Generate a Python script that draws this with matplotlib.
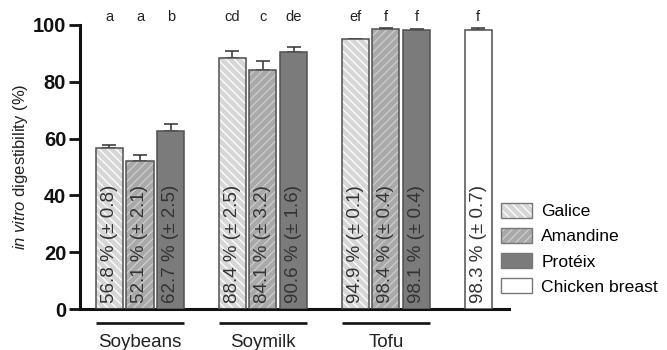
import matplotlib
matplotlib.use("Agg")
import matplotlib.pyplot as plt
from matplotlib.patches import Patch
from matplotlib.legend_handler import HandlerTuple

plt.rcParams["font.family"] = ["Liberation Sans", "DejaVu Sans"]
plt.rcParams["mathtext.fontset"] = "custom"
plt.rcParams["mathtext.it"] = "Liberation Sans:italic"
plt.rcParams["mathtext.rm"] = "Liberation Sans"
plt.rcParams["hatch.linewidth"] = 0.9

# 数据
groups = ["Soybeans", "Soymilk", "Tofu"]
varieties = ["Galice", "Amandine", "Protéix", "Chicken breast"]
means = [56.8, 52.1, 62.7, 88.4, 84.1, 90.6, 94.9, 98.4, 98.1, 98.3]
sds = [0.8, 2.1, 2.5, 2.5, 3.2, 1.6, 0.1, 0.4, 0.4, 0.7]
letters = ["a", "a", "b", "cd", "c", "de", "ef", "f", "f", "f"]
bar_variety = [0, 1, 2, 0, 1, 2, 0, 1, 2, 3]
positions = [0, 1, 2, 4, 5, 6, 8, 9, 10, 12]

# 样式
faces = ["#d6d6d6", "#a9a9a9", "#7b7b7b", "#ffffff"]
hatch_col = ["#ffffff", "#cdcdcd", None, None]
hatches = ["\\\\\\\\", "////", "", ""]
edge = "#505050"
txt = "#333333"

fig = plt.figure(figsize=(6.67, 3.5), dpi=100)
ax = fig.add_axes([0.12, 0.117, 0.643, 0.812])

w = 0.88
for i, (x, m, s) in enumerate(zip(positions, means, sds)):
    v = bar_variety[i]
    if hatches[v]:
        ax.bar(x, m, w, color=faces[v], hatch=hatches[v], edgecolor=hatch_col[v],
               linewidth=0, zorder=2)
        ax.bar(x, m, w, fill=False, edgecolor=edge, linewidth=1.1, zorder=3)
    else:
        ax.bar(x, m, w, color=faces[v], edgecolor=edge, linewidth=1.1, zorder=3)
    ax.errorbar(x, m, yerr=[[0], [s]], color="#303030", capsize=5, elinewidth=1.1,
                capthick=1.1, zorder=1)
    ax.text(x, 2.3, f"{m:.1f} % (± {s:.1f})", rotation=90, ha="center", va="bottom",
            fontsize=13.5, color=txt, zorder=4)
    ax.text(x, 102.8, letters[i], ha="center", va="center", fontsize=10.5,
            color="#222222", clip_on=False)

# 分组下划线与标签
for gi, name in enumerate(groups):
    xs = positions[gi * 3:gi * 3 + 3]
    ax.plot([xs[0] - w / 2, xs[-1] + w / 2], [-4.9, -4.9], color="#111111", lw=1.9,
            clip_on=False, solid_capstyle="butt")
    ax.text(xs[1], -11.6, name, ha="center", va="center", fontsize=13.5, color="#222222")

ax.set_xlim(-0.95, 13.0)
ax.set_ylim(0, 100)
ax.set_yticks([0, 20, 40, 60, 80, 100])
ax.set_xticks([])
for sp in ["top", "right"]:
    ax.spines[sp].set_visible(False)
for sp in ["left", "bottom"]:
    ax.spines[sp].set_linewidth(2.2)
    ax.spines[sp].set_color("#111111")
ax.tick_params(axis="y", length=8, width=2.0, labelsize=14.5, pad=2, colors="#111111")
for lab in ax.get_yticklabels():
    lab.set_fontweight("bold")
ax.set_ylabel(r"$\it{in\ vitro}$ digestibility (%)", fontsize=12, color="#222222",
              labelpad=2)

# 图例
handles = []
for v in range(4):
    if hatches[v]:
        handles.append((Patch(facecolor=faces[v], hatch=hatches[v], edgecolor=hatch_col[v], linewidth=0),
                        Patch(fill=False, edgecolor="#777777", linewidth=1.0)))
    else:
        handles.append(Patch(facecolor=faces[v], edgecolor="#777777", linewidth=1.0))
fig.legend(handles, varieties, loc="center left", bbox_to_anchor=(0.751, 0.289),
           frameon=False, fontsize=12.6, handlelength=1.8, handleheight=0.9,
           labelspacing=0.5, handletextpad=0.5, borderpad=0, borderaxespad=0,
           handler_map={tuple: HandlerTuple(ndivide=1, pad=0)})

fig.savefig("out.png", dpi=100)
